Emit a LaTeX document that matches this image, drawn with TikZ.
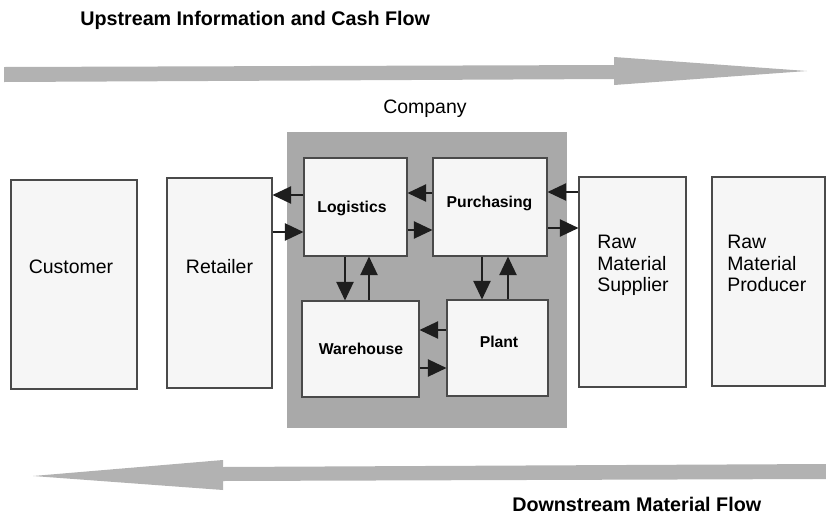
\documentclass[tikz,border=0pt]{standalone}
\usepackage{fontspec}
\setmainfont{Liberation Sans}
\usetikzlibrary{arrows.meta,fit}

\definecolor{flowgray}{HTML}{B2B2B2}
\definecolor{firmgray}{HTML}{A9A9A9}
\definecolor{boxfill}{HTML}{F6F6F6}
\definecolor{boxline}{HTML}{4A4A4A}
\definecolor{arrowink}{HTML}{1E1E1E}

\tikzset{
  box/.style={draw=boxline, line width=0.8pt, fill=boxfill, inner sep=0pt},
  firm/.style={fill=firmgray, draw=none, inner sep=0pt},
  bigtxt/.style={font=\fontsize{14.6}{16.1}\selectfont, inner sep=0pt},
  unittxt/.style={font=\bfseries\fontsize{11.8}{13}\selectfont, inner sep=0pt},
  headtxt/.style={font=\bfseries\fontsize{14.8}{17}\selectfont, inner sep=0pt},
  link/.style={draw=arrowink, line width=1.1pt,
    -{Triangle[length=14pt,width=13pt]}},
  bigflow/.style={fill=flowgray, draw=none}
}

\begin{document}
\begin{tikzpicture}[x=0.75pt,y=-0.75pt]
\useasboundingbox (0,0) rectangle (826,515);

% flow arrows
\fill[bigflow] (4,67) -- (614,65) -- (614,57) -- (807,71)
  -- (614,85) -- (614,79) -- (4,82) -- cycle;
\fill[bigflow] (826,464) -- (223,467) -- (223,460) -- (33,476)
  -- (223,490) -- (223,481) -- (826,479) -- cycle;
\node[headtxt, anchor=base west] (uplbl) at (80,25) {Upstream Information and Cash Flow};
\node[headtxt, anchor=base west] (downlbl) at (512,511.5) {Downstream Material Flow};

% company block
\node[firm, fit={(287,132)(567,428)}] (firm) {};
\node[bigtxt, anchor=base west] (firmlbl) at (383,113) {Company};

% outer partners
\node[box, fit={(11,180)(137,389)}] (cust) {};
\node[box, fit={(167,178)(272,388)}] (ret) {};
\node[box, fit={(579,177)(686,387)}] (sup) {};
\node[box, fit={(712,177)(825,386)}] (prod) {};

\node[bigtxt, anchor=base] (custlbl) at (71,273) {Customer};
\node[bigtxt, anchor=base] (retlbl) at (219.5,273) {Retailer};
\node[bigtxt, anchor=north west, align=left] (suplbl) at (597,235) {Raw\\Material\\Supplier};
\node[bigtxt, anchor=north west, align=left] (prodlbl) at (727,235) {Raw\\Material\\Producer};

% internal units
\node[box, fit={(304,158)(407,256)}] (log) {};
\node[box, fit={(433,158)(547,256)}] (pur) {};
\node[box, fit={(302,301)(419,397)}] (ware) {};
\node[box, fit={(447,300)(548,396)}] (plant) {};

\node[unittxt, anchor=base] (loglbl) at (352,212) {Logistics};
\node[unittxt, anchor=base] (purlbl) at (489.5,207) {Purchasing};
\node[unittxt, anchor=base] (warelbl) at (361,354) {Warehouse};
\node[unittxt, anchor=base] (plantlbl) at (499,347) {Plant};

% links between partners and units
\draw[link] (log.west |- 0,195) -- (ret.east |- 0,195);
\draw[link] (ret.east |- 0,232) -- (log.west |- 0,232);
\draw[link] (pur.west |- 0,193) -- (log.east |- 0,193);
\draw[link] (log.east |- 0,230) -- (pur.west |- 0,230);
\draw[link] (sup.west |- 0,192) -- (pur.east |- 0,192);
\draw[link] (pur.east |- 0,228) -- (sup.west |- 0,228);

\draw[link] (log.south -| 345,0) -- (ware.north -| 345,0);
\draw[link] (ware.north -| 369,0) -- (log.south -| 369,0);
\draw[link] (pur.south -| 482,0) -- (plant.north -| 482,0);
\draw[link] (plant.north -| 508,0) -- (pur.south -| 508,0);

\draw[link] (plant.west |- 0,330) -- (ware.east |- 0,330);
\draw[link] (ware.east |- 0,368) -- (plant.west |- 0,368);
\end{tikzpicture}
\end{document}
